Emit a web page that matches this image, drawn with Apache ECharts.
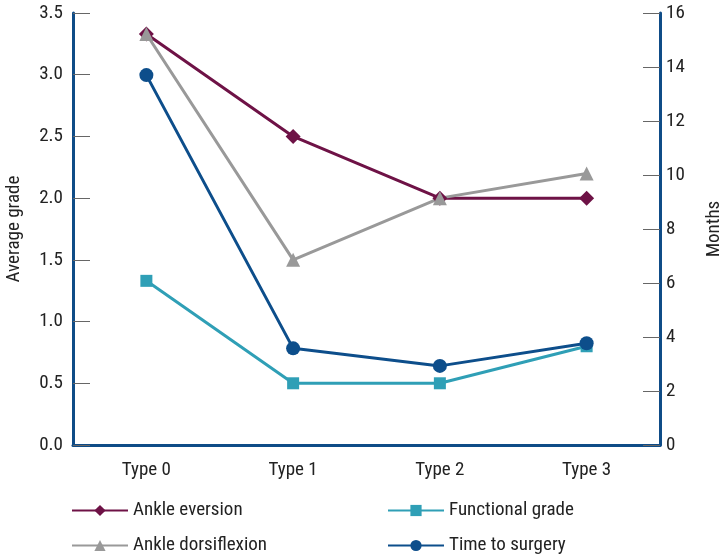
<!DOCTYPE html>
<html><head><meta charset="utf-8">
<script src="https://cdn.jsdelivr.net/npm/echarts@6/dist/echarts.min.js"></script>
<style>html,body{margin:0;padding:0;background:#fff}#c{width:725px;height:559px}</style>
</head><body><div id="c"></div>
<script>
const categories = ['Type 0', 'Type 1', 'Type 2', 'Type 3'];
const ankleEversion = [3.33, 2.5, 2.0, 2.0];
const ankleDorsiflexion = [3.33, 1.5, 2.0, 2.2];
const functionalGrade = [1.33, 0.5, 0.5, 0.8];
const timeToSurgery = [13.7, 3.58, 2.93, 3.77];

const FONT = '"Liberation Sans Narrow", "Roboto Condensed", Roboto, sans-serif';
const AXIS_BLUE = '#0f4c87';
const chart = echarts.init(document.getElementById('c'));
const txt = {color: '#222', fontFamily: FONT, fontSize: 19};
function mk(name, data, color, symbol, size, yIdx) {
  return {name, type: 'line', data, yAxisIndex: yIdx, symbol, symbolSize: size,
    lineStyle: {color, width: 3}, itemStyle: {color}, emphasis: {disabled: true}};
}
chart.setOption({
  animation: false,
  grid: {left: 73, right: 65, top: 13, bottom: 114, containLabel: false, outerBoundsMode: 'none'},
  legend: [
    {orient: 'vertical', left: 66, top: 496, height: 80, itemGap: 16, itemWidth: 56, itemHeight: 14,
     textStyle: txt, data: ['Ankle eversion', 'Ankle dorsiflexion']},
    {orient: 'vertical', left: 382, top: 496, height: 80, itemGap: 16, itemWidth: 56, itemHeight: 14,
     textStyle: txt, data: ['Functional grade', 'Time to surgery']}
  ],
  xAxis: {type: 'category', data: categories, boundaryGap: true,
    axisLine: {lineStyle: {color: AXIS_BLUE, width: 3}},
    axisTick: {inside: true, alignWithLabel: true, length: 16, lineStyle: {color: '#666', width: 1}},
    axisLabel: Object.assign({margin: 16}, txt)},
  yAxis: [
    {type: 'value', min: 0, max: 3.5, interval: 0.5, name: 'Average grade',
     nameLocation: 'middle', nameGap: 49, nameTextStyle: txt,
     axisLine: {show: true, lineStyle: {color: AXIS_BLUE, width: 3}},
     axisTick: {show: true, inside: true, length: 17, lineStyle: {color: '#666', width: 1}},
     splitLine: {show: false},
     axisLabel: Object.assign({margin: 10, formatter: v => v.toFixed(1)}, txt)},
    {type: 'value', min: 0, max: 16, interval: 2, name: 'Months', position: 'right',
     nameLocation: 'middle', nameGap: 45, nameTextStyle: txt,
     axisLine: {show: true, lineStyle: {color: AXIS_BLUE, width: 3}},
     axisTick: {show: true, inside: true, length: 17, lineStyle: {color: '#666', width: 1}},
     splitLine: {show: false},
     axisLabel: Object.assign({margin: 6}, txt)}
  ],
  series: [
    mk('Ankle eversion', ankleEversion, '#6e1246', 'diamond', 15, 0),
    mk('Functional grade', functionalGrade, '#2f9fb6', 'rect', 12, 0),
    mk('Ankle dorsiflexion', ankleDorsiflexion, '#999999', 'triangle', 14, 0),
    mk('Time to surgery', timeToSurgery, '#0d4e8b', 'circle', 14, 1)
  ]
});
</script></body></html>
